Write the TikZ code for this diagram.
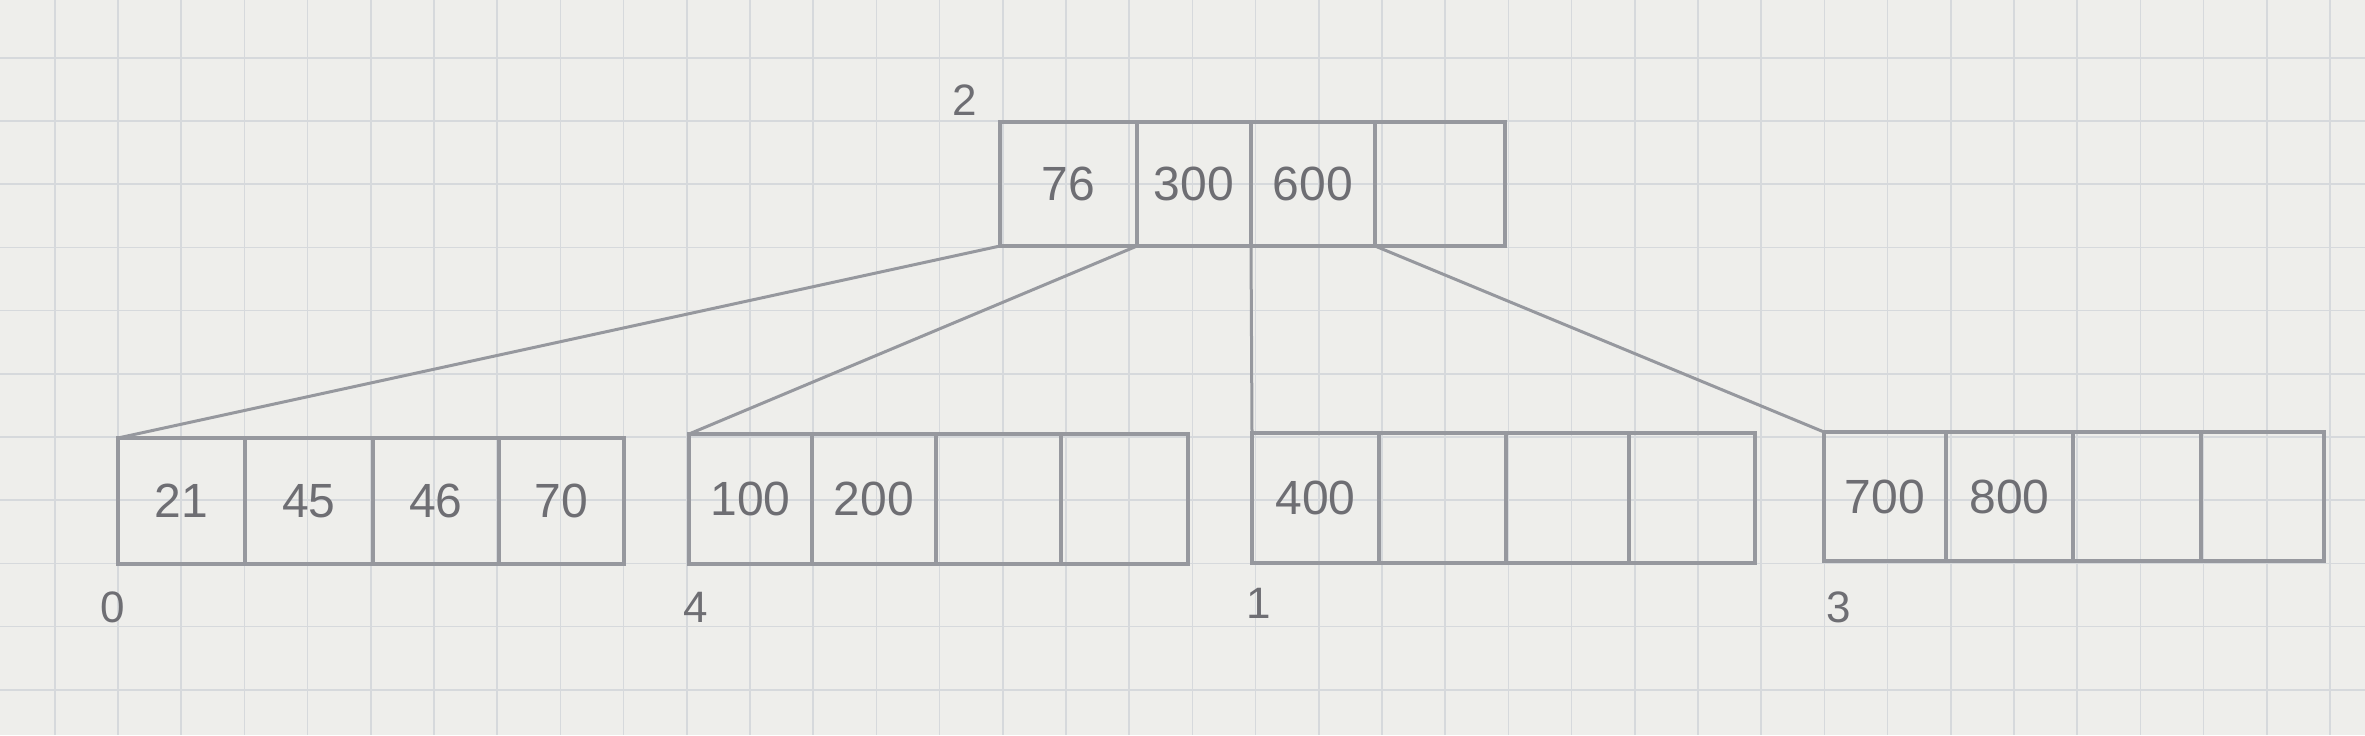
\documentclass[tikz,border=0pt]{standalone}
\usepackage{fontspec}
\setmainfont{Liberation Sans}
\definecolor{paper}{RGB}{238,238,235}
\definecolor{gridc}{RGB}{214,217,220}
\definecolor{pencil}{RGB}{150,152,158}
\definecolor{ink}{RGB}{110,110,115}
\newcommand\cellnode[6]{%
  \node[cell, minimum width={(#3-#2)*0.5pt}, minimum height={(#5-#4)*0.5pt}]
    (#1) at ({(#2+#3)/2},{(#4+#5)/2}) {#6};}
\begin{document}
\begin{tikzpicture}[x=0.5pt,y=-0.5pt,
  cell/.style={draw=pencil, line width=2.2pt, inner sep=0pt, outer sep=0pt,
    text=ink, font=\fontsize{24}{28}\selectfont},
  link/.style={draw=pencil, line width=1.5pt},
  lbl/.style={text=ink, font=\fontsize{22}{26}\selectfont, inner sep=0pt},
  gridline/.style={draw=gridc, line width=0.8pt}]
\fill[paper] (0,0) rectangle (2365,735);
\useasboundingbox (0,0) rectangle (2365,735);
% grid paper
\foreach \k in {-1,...,35} {\draw[gridline] ({118+63.2*\k},0) -- ({118+63.2*\k},735);}
\foreach \k in {-6,...,4} {\draw[gridline] (0,{437+63.2*\k}) -- (2365,{437+63.2*\k});}
% root node (2)
\cellnode{r1}{1000}{1137}{122}{246}{76}
\cellnode{r2}{1137}{1251}{122}{246}{300}
\cellnode{r3}{1251}{1375}{122}{246}{600}
\cellnode{r4}{1375}{1505}{122}{246}{}
% leaf 0
\cellnode{a1}{118}{245}{438}{564}{21}
\cellnode{a2}{245}{373}{438}{564}{45}
\cellnode{a3}{373}{499}{438}{564}{46}
\cellnode{a4}{499}{624}{438}{564}{70}
% leaf 4
\cellnode{b1}{689}{812}{434}{564}{100}
\cellnode{b2}{812}{936}{434}{564}{200}
\cellnode{b3}{936}{1061}{434}{564}{}
\cellnode{b4}{1061}{1188}{434}{564}{}
% leaf 1
\cellnode{c1}{1252}{1379}{433}{563}{400}
\cellnode{c2}{1379}{1506}{433}{563}{}
\cellnode{c3}{1506}{1629}{433}{563}{}
\cellnode{c4}{1629}{1755}{433}{563}{}
% leaf 3
\cellnode{d1}{1824}{1946}{432}{561}{700}
\cellnode{d2}{1946}{2073}{432}{561}{800}
\cellnode{d3}{2073}{2201}{432}{561}{}
\cellnode{d4}{2201}{2324}{432}{561}{}
% connectors
\draw[link] (r1.south west) -- (a1.north west);
\draw[link] (r2.south west) -- (b1.north west);
\draw[link] (r3.south west) -- (c1.north west);
\draw[link] (r4.south west) -- (d1.north west);
% page labels
\node[lbl] (l2) at (965,100) {2};
\node[lbl] (l0) at (113,607) {0};
\node[lbl] (l4) at (696,607) {4};
\node[lbl] (l1) at (1259,603) {1};
\node[lbl] (l3) at (1839,607) {3};
\end{tikzpicture}
\end{document}
